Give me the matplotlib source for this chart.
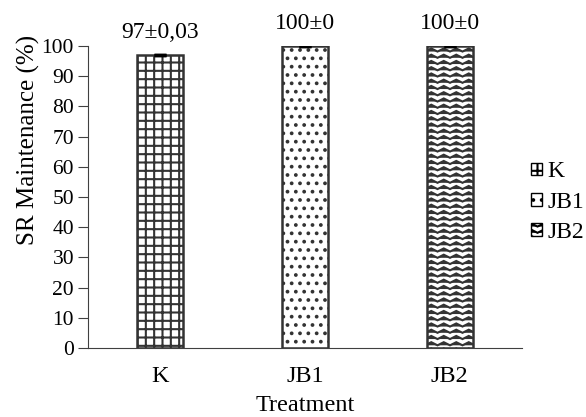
import warnings
import numpy as np
import matplotlib
matplotlib.use("Agg")
import matplotlib.pyplot as plt
import matplotlib.hatch as mhatch
from matplotlib.path import Path
from matplotlib.patches import Patch

warnings.filterwarnings("ignore")

plt.rcParams['font.family'] = ['Liberation Serif', 'DejaVu Serif']
plt.rcParams['hatch.linewidth'] = 1.5


# zigzag hatch (like the Excel "wave" fill) -- 'z' in the hatch string
class ZigZagHatch(mhatch.HatchPatternBase):
    def __init__(self, hatch, density):
        self.num_rows = hatch.count('z') * 8
        self.teeth = 8
        self.num_vertices = (self.num_rows + 1) * (2 * self.teeth + 1) if self.num_rows else 0

    def set_vertices_and_codes(self, vertices, codes):
        n = 2 * self.teeth + 1
        xs = np.linspace(0, 1, n)
        amp = 0.25 / self.num_rows
        offs = np.where(np.arange(n) % 2 == 0, -amp, amp)
        for i, y in enumerate(np.linspace(0, 1, self.num_rows + 1)):
            vertices[i * n:(i + 1) * n, 0] = xs
            vertices[i * n:(i + 1) * n, 1] = y + offs
            codes[i * n] = Path.MOVETO
            codes[i * n + 1:(i + 1) * n] = Path.LINETO


mhatch._hatch_types.append(ZigZagHatch)

# data
treatments = ["K", "JB1", "JB2"]
maintenance = [97, 100, 100]
errors = [0.03, 0, 0]
value_labels = ["97±0,03", "100±0", "100±0"]
hatches = ["++", "..", "zz"]

fig = plt.figure(figsize=(5.86, 4.17), dpi=100)
ax = fig.add_axes([0.150, 0.1655, 0.741, 0.7245])

x = range(len(treatments))
bars = ax.bar(x, maintenance, width=0.32, color="white", edgecolor="#333333",
              linewidth=1.8, zorder=2)
for b, h in zip(bars, hatches):
    b.set_hatch(h)

ax.errorbar(x, maintenance, yerr=errors, fmt="none", ecolor="black",
            capsize=4, capthick=2.5, elinewidth=1, zorder=3)

for xi, v, lab in zip(x, maintenance, value_labels):
    ax.text(xi, v + 4, lab, ha="center", va="bottom", fontsize=17)

ax.set_xlim(-0.5, 2.5)
ax.set_ylim(0, 100)
ax.set_yticks(range(0, 101, 10))
ax.set_xticks(list(x))
ax.set_xticklabels(treatments)
ax.tick_params(axis="y", labelsize=15.5, length=7, pad=3, color="#404040")
ax.tick_params(axis="x", labelsize=17.5, length=0, pad=13)
ax.spines["top"].set_visible(False)
ax.spines["right"].set_visible(False)
ax.spines["left"].set_color("#404040")
ax.spines["bottom"].set_color("#404040")

ax.set_ylabel("SR Maintenance (%)", fontsize=18, va="center")
ax.yaxis.set_label_coords(-0.138, 0.69)
ax.set_xlabel("Treatment", fontsize=17.5, labelpad=6)

handles = [Patch(facecolor="white", edgecolor="black", hatch=h, label=t)
           for h, t in zip(hatches, treatments)]
fig.legend(handles=handles, loc="center left", bbox_to_anchor=(0.906, 0.515),
           frameon=False, fontsize=17, handlelength=0.45, handleheight=0.45,
           handletextpad=0.25, labelspacing=0.4, borderaxespad=0, borderpad=0)

fig.savefig("out.png", dpi=100)
